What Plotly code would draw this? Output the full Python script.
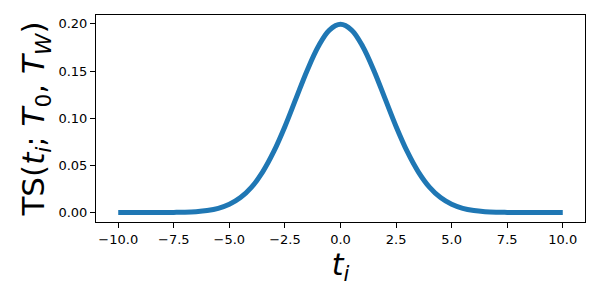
import plotly.graph_objects as go

t_vals = [-10.0, -9.5, -9.0, -8.5, -8.0, -7.5, -7.0, -6.5, -6.0, -5.5, -5.0,
          -4.5, -4.0, -3.5, -3.0, -2.5, -2.0, -1.5, -1.0, -0.5, 0.0,
          0.5, 1.0, 1.5, 2.0, 2.5, 3.0, 3.5, 4.0, 4.5, 5.0,
          5.5, 6.0, 6.5, 7.0, 7.5, 8.0, 8.5, 9.0, 9.5, 10.0]
ts_vals = [0.0000, 0.0000, 0.0000, 0.0000, 0.0001, 0.0002, 0.0004, 0.0010, 0.0022, 0.0045, 0.0088,
           0.0159, 0.0270, 0.0432, 0.0648, 0.0913, 0.1210, 0.1506, 0.1760, 0.1934, 0.1995,
           0.1934, 0.1760, 0.1506, 0.1210, 0.0913, 0.0648, 0.0432, 0.0270, 0.0159, 0.0088,
           0.0045, 0.0022, 0.0010, 0.0004, 0.0002, 0.0001, 0.0000, 0.0000, 0.0000, 0.0000]
x_ticks = [-10.0, -7.5, -5.0, -2.5, 0.0, 2.5, 5.0, 7.5, 10.0]
y_ticks = [0.00, 0.05, 0.10, 0.15, 0.20]

fig = go.Figure()
fig.add_trace(go.Scatter(x=t_vals, y=ts_vals, mode="lines",
                         line=dict(color="#1f77b4", width=5, shape="spline"),
                         showlegend=False, hoverinfo="skip"))

axis_common = dict(showline=True, linecolor="black", linewidth=1, mirror=True,
                   ticks="outside", ticklen=5, tickwidth=1, tickcolor="black",
                   showgrid=False, zeroline=False,
                   tickfont=dict(family="DejaVu Sans", size=13, color="black"))

fig.update_xaxes(range=[-11, 11], tickvals=x_ticks, tickformat=".1f",
                 title=dict(text="<i>t</i><sub><i>i</i></sub>",
                            font=dict(family="DejaVu Sans", size=30, color="black"),
                            standoff=8),
                 **axis_common)
fig.update_yaxes(range=[-0.00997, 0.2094], tickvals=y_ticks, tickformat=".2f",
                 title=dict(text="TS(<i>t</i><sub><i>i</i></sub>; <i>T</i><sub>0</sub>, <i>T</i><sub><i>W</i></sub>)",
                            font=dict(family="DejaVu Sans", size=31, color="black"),
                            standoff=4),
                 **axis_common)

fig.update_layout(width=600, height=300, margin=dict(l=96, r=15, t=15, b=78),
                  plot_bgcolor="white", paper_bgcolor="white",
                  font=dict(family="DejaVu Sans", color="black"))

fig.write_html("out.html")
